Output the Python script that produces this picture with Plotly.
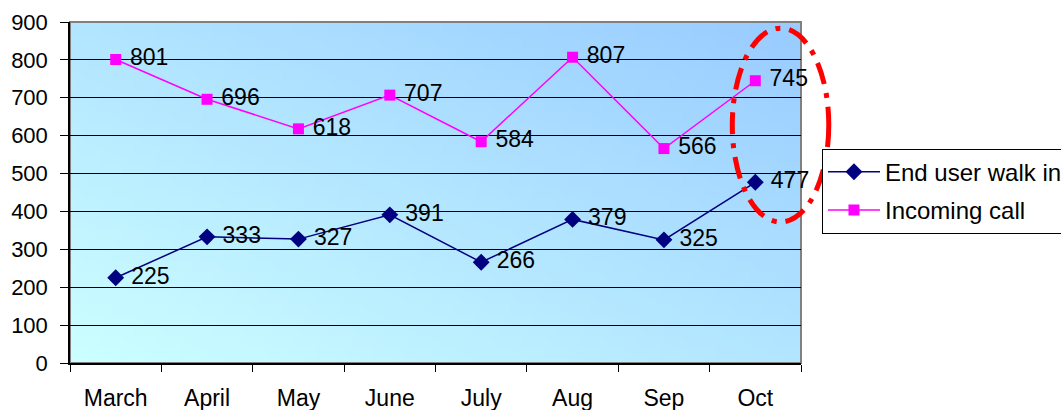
import base64
import struct
import zlib

import plotly.graph_objects as go

months = ["March", "April", "May", "June", "July", "Aug", "Sep", "Oct"]
walk_in = [225, 333, 327, 391, 266, 379, 325, 477]
incoming = [801, 696, 618, 707, 584, 807, 566, 745]
y_ticks = [0, 100, 200, 300, 400, 500, 600, 700, 800, 900]


def gradient_png(w, h, c0, c1):
    rows = b""
    for j in range(h):
        row = b"\x00"
        for i in range(w):
            t = (i / (w - 1) + (1 - j / (h - 1))) / 2
            px = bytes(int(round(a + (b - a) * t)) for a, b in zip(c0, c1))
            row += px
        rows += row

    def chunk(tag, data):
        c = struct.pack(">I", len(data)) + tag + data
        return c + struct.pack(">I", zlib.crc32(tag + data) & 0xFFFFFFFF)

    png = b"\x89PNG\r\n\x1a\n"
    png += chunk(b"IHDR", struct.pack(">IIBBBBB", w, h, 8, 2, 0, 0, 0))
    png += chunk(b"IDAT", zlib.compress(rows))
    png += chunk(b"IEND", b"")
    return "data:image/png;base64," + base64.b64encode(png).decode()


bg = gradient_png(64, 32, (204, 255, 255), (153, 204, 255))

FONT = "Liberation Sans, Arial, sans-serif"

fig = go.Figure()
fig.add_trace(go.Scatter(
    x=months, y=walk_in, name="End user walk in", legendgroup="a",
    mode="lines+markers+text", text=[" " + str(v) for v in walk_in],
    textposition="middle right",
    textfont=dict(size=23, color="black", family=FONT),
    line=dict(color="#000080", width=1.5),
    marker=dict(symbol="diamond", size=13, color="#000080"),
    cliponaxis=False,
))
fig.add_trace(go.Scatter(
    x=months, y=incoming, name="Incoming call", legendgroup="b",
    mode="lines+markers+text", text=[" " + str(v) for v in incoming],
    textposition="middle right",
    textfont=dict(size=23, color="black", family=FONT),
    line=dict(color="#FF00FF", width=1.5),
    marker=dict(symbol="square", size=11, color="#FF00FF"),
    cliponaxis=False,
))

fig.update_layout(
    width=1061, height=410,
    margin=dict(l=70, r=260, t=22, b=47, autoexpand=False),
    paper_bgcolor="white",
    plot_bgcolor="rgba(0,0,0,0)",
    font=dict(family=FONT, size=22, color="black"),
    showlegend=True,
    legend=dict(
        x=1.0287, xanchor="left", y=0.504, yanchor="middle",
        bgcolor="white", bordercolor="black", borderwidth=1,
        font=dict(size=24, family=FONT, color="black"),
        traceorder="grouped", tracegroupgap=4,
        itemwidth=52,
    ),
    images=[dict(
        source=bg, xref="paper", yref="paper", x=0, y=1,
        sizex=1, sizey=1, xanchor="left", yanchor="top",
        sizing="stretch", layer="below",
    )],
    shapes=[
        dict(type="rect", xref="paper", yref="paper", x0=0, x1=1, y0=0, y1=1,
             line=dict(color="#808080", width=2), layer="below"),
        dict(type="circle", xref="paper", yref="paper",
             x0=0.906, x1=1.038, y0=0.4135, y1=0.982,
             line=dict(color="#FF0000", width=5, dash="22px,9px,5px,9px"),
             layer="above"),
    ],
)

fig.update_xaxes(
    type="category", categoryorder="array", categoryarray=months,
    range=[-0.5, len(months) - 0.5],
    showgrid=False, showline=True, linecolor="black", linewidth=1.5,
    ticks="outside", ticklen=7, tickcolor="black", tickson="boundaries",
    ticklabelstandoff=14,
    tickfont=dict(size=23, family=FONT, color="black"),
)
fig.update_yaxes(
    range=[0, 900], tickvals=y_ticks,
    showgrid=True, gridcolor="black", gridwidth=1,
    zeroline=False,
    showline=True, linecolor="black", linewidth=1.5,
    ticks="outside", ticklen=8, tickcolor="black",
    ticklabelstandoff=8,
    tickfont=dict(size=22, family=FONT, color="black"),
)

fig.write_html("out.html")
